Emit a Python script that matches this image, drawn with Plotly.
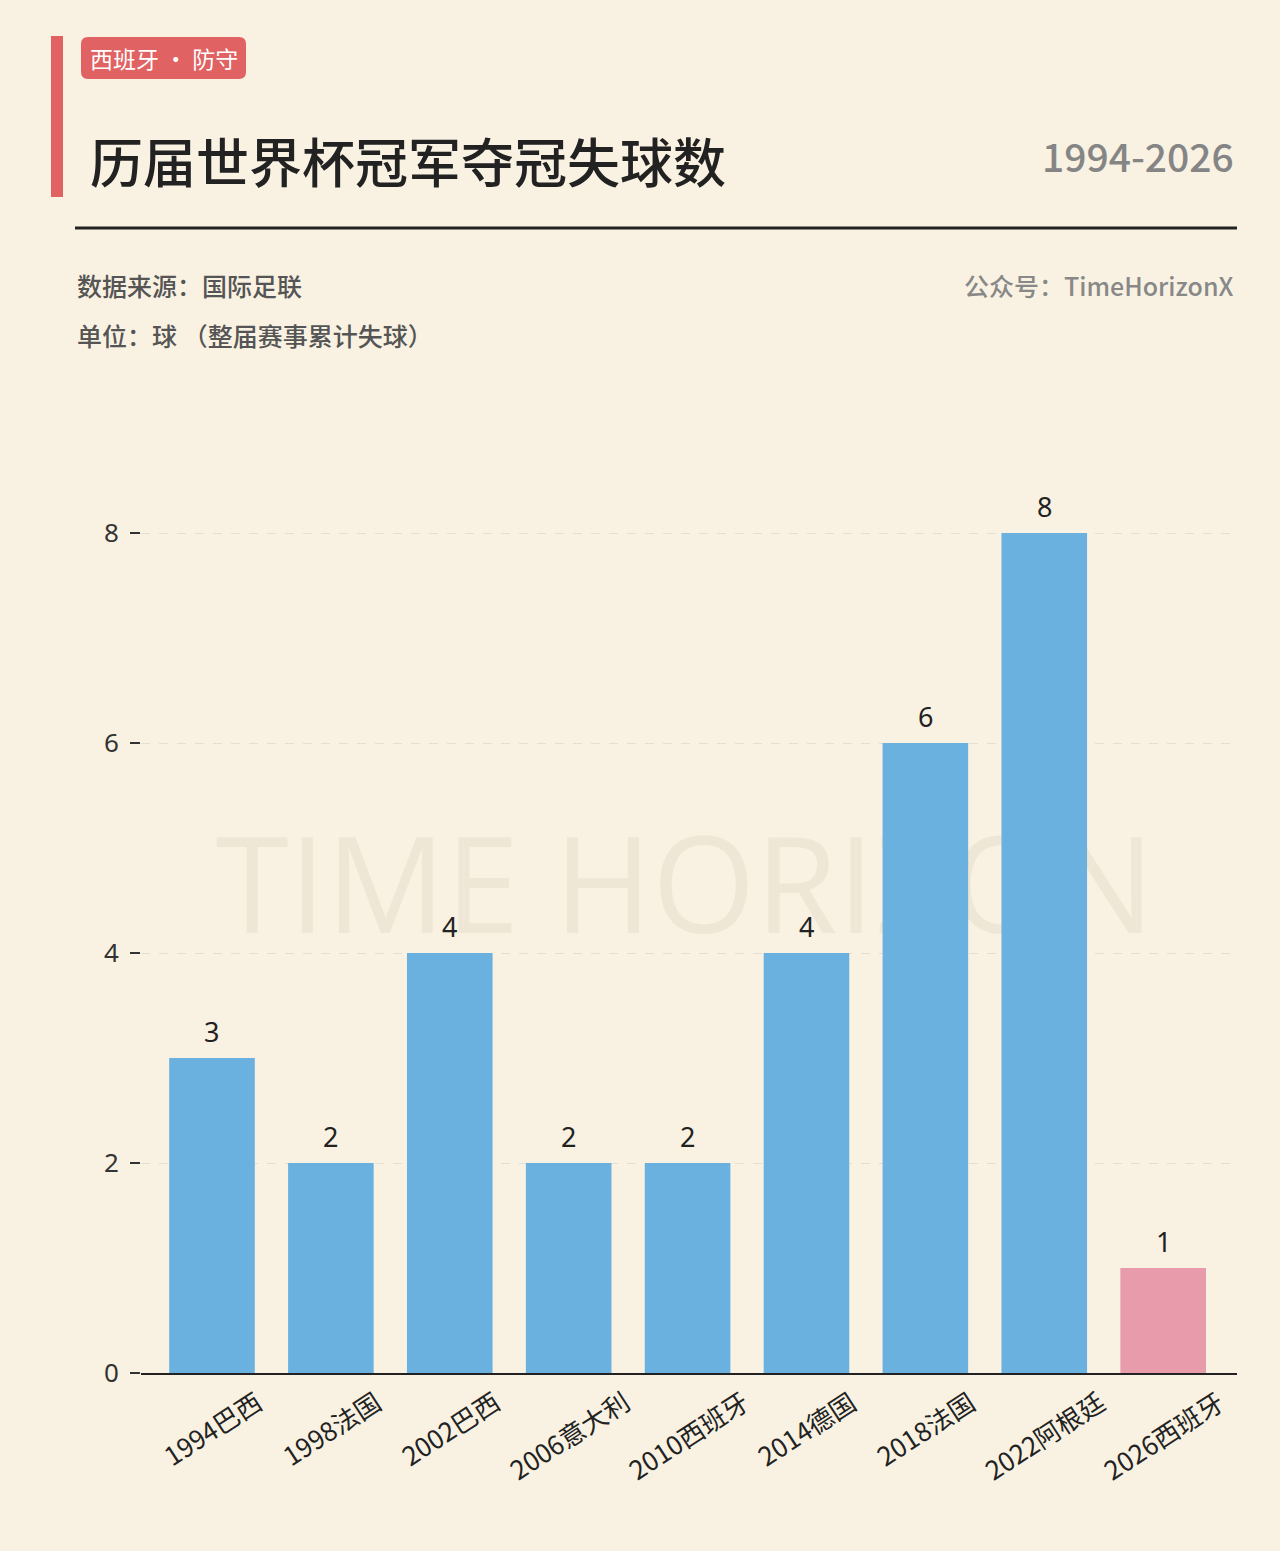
import plotly.graph_objects as go

W, H = 1280, 1551
categories = ["1994巴西", "1998法国", "2002巴西", "2006意大利", "2010西班牙",
              "2014德国", "2018法国", "2022阿根廷", "2026西班牙"]
goals_conceded = [3, 2, 4, 2, 2, 4, 6, 8, 1]
highlight = "2026西班牙"
y_ticks = [0, 2, 4, 6, 8]

BG = "#F9F2E2"
BLUE = "#6AB1E0"
PINK = "#E79BAB"
RED = "#E06262"
FONT = "Noto Sans CJK SC"

def px(x):
    return x / W

def py(y):
    return 1 - y / H

colors = [PINK if c == highlight else BLUE for c in categories]

fig = go.Figure()
fig.add_trace(go.Bar(
    x=categories, y=goals_conceded, marker=dict(color=colors, line=dict(width=0)),
    width=0.72, hoverinfo="x+y",
))

plot_l, plot_r, plot_b, plot_t = 141, 1237, 1373, 449
fig.update_layout(
    width=W, height=H, margin=dict(l=0, r=0, t=0, b=0),
    paper_bgcolor=BG, plot_bgcolor="rgba(0,0,0,0)",
    font=dict(family=FONT, color="#222222"),
    showlegend=False,
    xaxis=dict(domain=[px(plot_l), px(plot_r)], range=[-0.597, 8.621],
               showticklabels=False,
               showline=True, linecolor="#222222", linewidth=2,
               ticks="", showgrid=False, automargin=False, fixedrange=True),
    yaxis=dict(domain=[py(plot_b), py(plot_t)], range=[0, 8.8],
               tickvals=y_ticks, tickfont=dict(size=26, color="#333333", family="Noto Sans"),
               ticks="outside", ticklen=10, tickcolor="#333333", tickwidth=2,
               ticklabelstandoff=6,
               showgrid=True, gridcolor="#E6DFCF", griddash="dash", gridwidth=1,
               zeroline=False, showline=False, automargin=False, fixedrange=True),
)

# value labels above bars
for c, v in zip(categories, goals_conceded):
    fig.add_annotation(x=c, y=v, xref="x", yref="y", text=str(v), showarrow=False,
                       yanchor="middle", yshift=27,
                       font=dict(size=27, color="#222222", family="Noto Sans"))

# rotated category labels (bbox centred under each bar)
for c in categories:
    fig.add_annotation(x=c, y=py(1379), xref="x", yref="paper", text=c, showarrow=False,
                       textangle=-33, xanchor="center", yanchor="top",
                       font=dict(size=26, color="#222222", family=FONT))

shapes = []
# watermark below bars
shapes.append(dict(type="rect", xref="paper", yref="paper", layer="below",
                   x0=px(150), x1=px(1220), y0=py(962), y1=py(818),
                   line=dict(width=0), fillcolor="rgba(0,0,0,0)",
                   label=dict(text="TIME HORIZON", font=dict(size=133, color="#EFE7D6", family="Open Sans"),
                              textposition="middle center")))
# red vertical bar
shapes.append(dict(type="rect", xref="paper", yref="paper", x0=px(51), x1=px(63),
                   y0=py(197), y1=py(36), fillcolor=RED, line=dict(width=0)))
# badge rounded rect
bx0, bx1, by0, by1, r = 81, 246, 37, 79, 7
path = (f"M {px(bx0+r)},{py(by0)} L {px(bx1-r)},{py(by0)} "
        f"Q {px(bx1)},{py(by0)} {px(bx1)},{py(by0+r)} L {px(bx1)},{py(by1-r)} "
        f"Q {px(bx1)},{py(by1)} {px(bx1-r)},{py(by1)} L {px(bx0+r)},{py(by1)} "
        f"Q {px(bx0)},{py(by1)} {px(bx0)},{py(by1-r)} L {px(bx0)},{py(by0+r)} "
        f"Q {px(bx0)},{py(by0)} {px(bx0+r)},{py(by0)} Z")
shapes.append(dict(type="path", xref="paper", yref="paper", path=path,
                   fillcolor=RED, line=dict(width=0)))
# header rule
shapes.append(dict(type="line", xref="paper", yref="paper", x0=px(75), x1=px(1237),
                   y0=py(228), y1=py(228), line=dict(color="#222222", width=3)))
fig.update_layout(shapes=shapes)

def ann(text, x, y, size, color, xanchor="left", weight=None, family=FONT):
    f = dict(size=size, color=color, family=family)
    if weight:
        f["weight"] = weight
    fig.add_annotation(text=text, x=px(x), y=py(y), xref="paper", yref="paper",
                       xanchor=xanchor, yanchor="middle", showarrow=False, font=f)

ann("西班牙 · 防守", 164, 58, 23, "#FFFFFF", xanchor="center")
ann("历届世界杯冠军夺冠失球数", 88, 160, 53, "#222222", weight=500)
ann("1994-2026", 1236, 155, 39, "#858585", xanchor="right", weight=500)
ann("数据来源：国际足联", 75, 285, 25, "#555555", weight=500)
ann("公众号：TimeHorizonX", 1236, 285, 25, "#888888", xanchor="right", weight=500)
ann("单位：球 （整届赛事累计失球）", 75, 335, 25, "#555555", weight=500)

fig.write_html("out.html")
